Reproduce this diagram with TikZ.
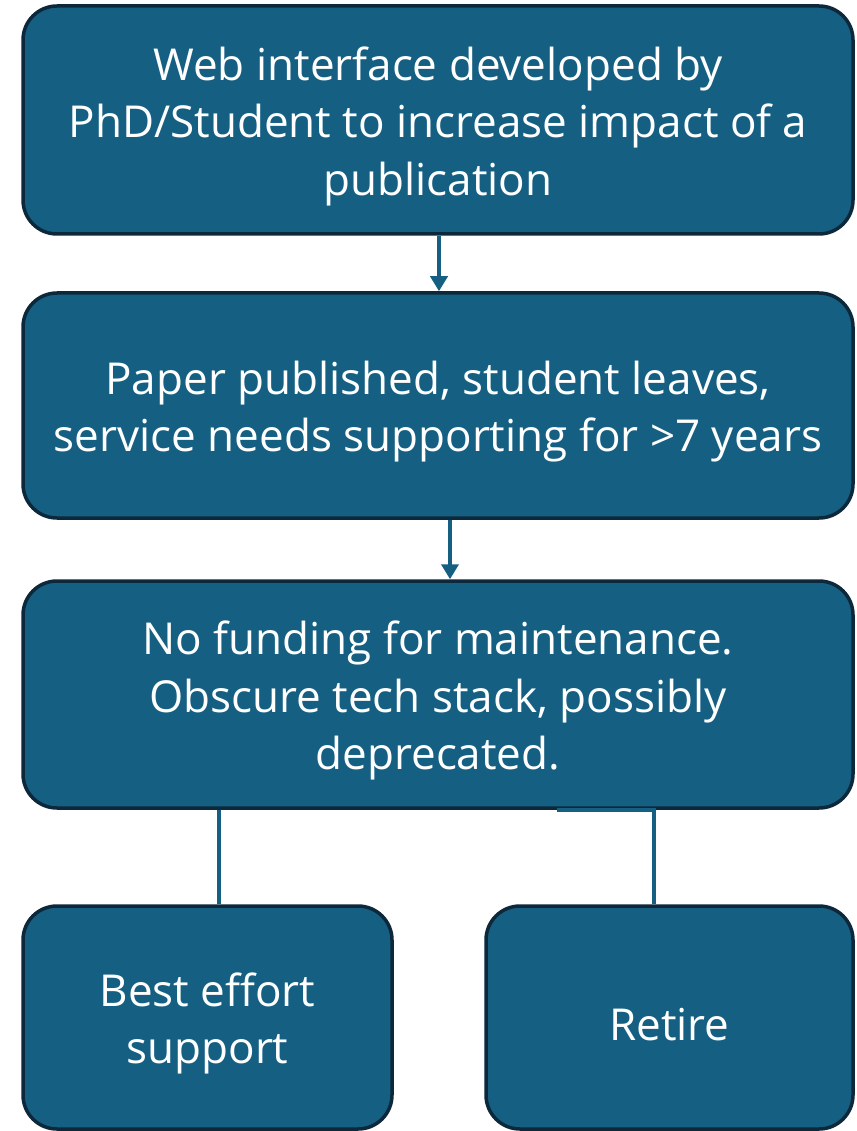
\documentclass[tikz,border=0pt]{standalone}
\usepackage{fontspec}
\setmainfont{Open Sans}
\usetikzlibrary{arrows.meta,calc}
\definecolor{boxfill}{RGB}{21,96,130}
\definecolor{boxline}{RGB}{12,40,58}
\newcommand\toppad{\rule{0pt}{46pt}}
\tikzset{
  stagebox/.style={draw=boxline, line width=3.5pt, fill=boxfill, rounded corners=34pt,
    text=white, align=center, inner sep=0pt, font=\fontsize{44}{57.5}\selectfont},
  arr/.style={draw=boxfill, line width=4pt, -{Triangle[width=17pt,length=15pt]}, shorten >=0pt},
  link/.style={draw=boxfill, line width=4pt}
}
\begin{document}
\begin{tikzpicture}[x=1pt,y=-1pt]
\useasboundingbox (0,0) rectangle (856,1131);
\node[stagebox, minimum width=830pt, minimum height=228pt] (b1) at (438,120)
  {\toppad Web interface developed by\\PhD/Student to increase impact of a\\publication};
\node[stagebox, minimum width=830pt, minimum height=225pt] (b2) at (438,405.5)
  {\toppad Paper published, student leaves,\\service needs supporting for >7 years};
\node[stagebox, minimum width=830pt, minimum height=227pt] (b3) at (438,694.5)
  {\toppad No funding for maintenance.\\Obscure tech stack, possibly\\deprecated.};
\node[stagebox, minimum width=369pt, minimum height=223pt] (b4) at (207.5,1017.5)
  {\toppad Best effort\\support};
\node[stagebox, minimum width=367pt, minimum height=223pt] (b5) at (669.5,1017.5)
  {\toppad Retire};
\draw[arr] ([xshift=1pt]b1.south) -- ([xshift=1pt]b2.north);
\draw[arr] ([xshift=12pt]b2.south) -- ([xshift=12pt]b3.north);
\draw[link] ([xshift=11pt]b4.north) -- ([xshift=11pt]b4.north |- b3.south);
\draw[link] ([xshift=119pt]b3.south) -| ([xshift=-16pt]b5.north);
\end{tikzpicture}
\end{document}
